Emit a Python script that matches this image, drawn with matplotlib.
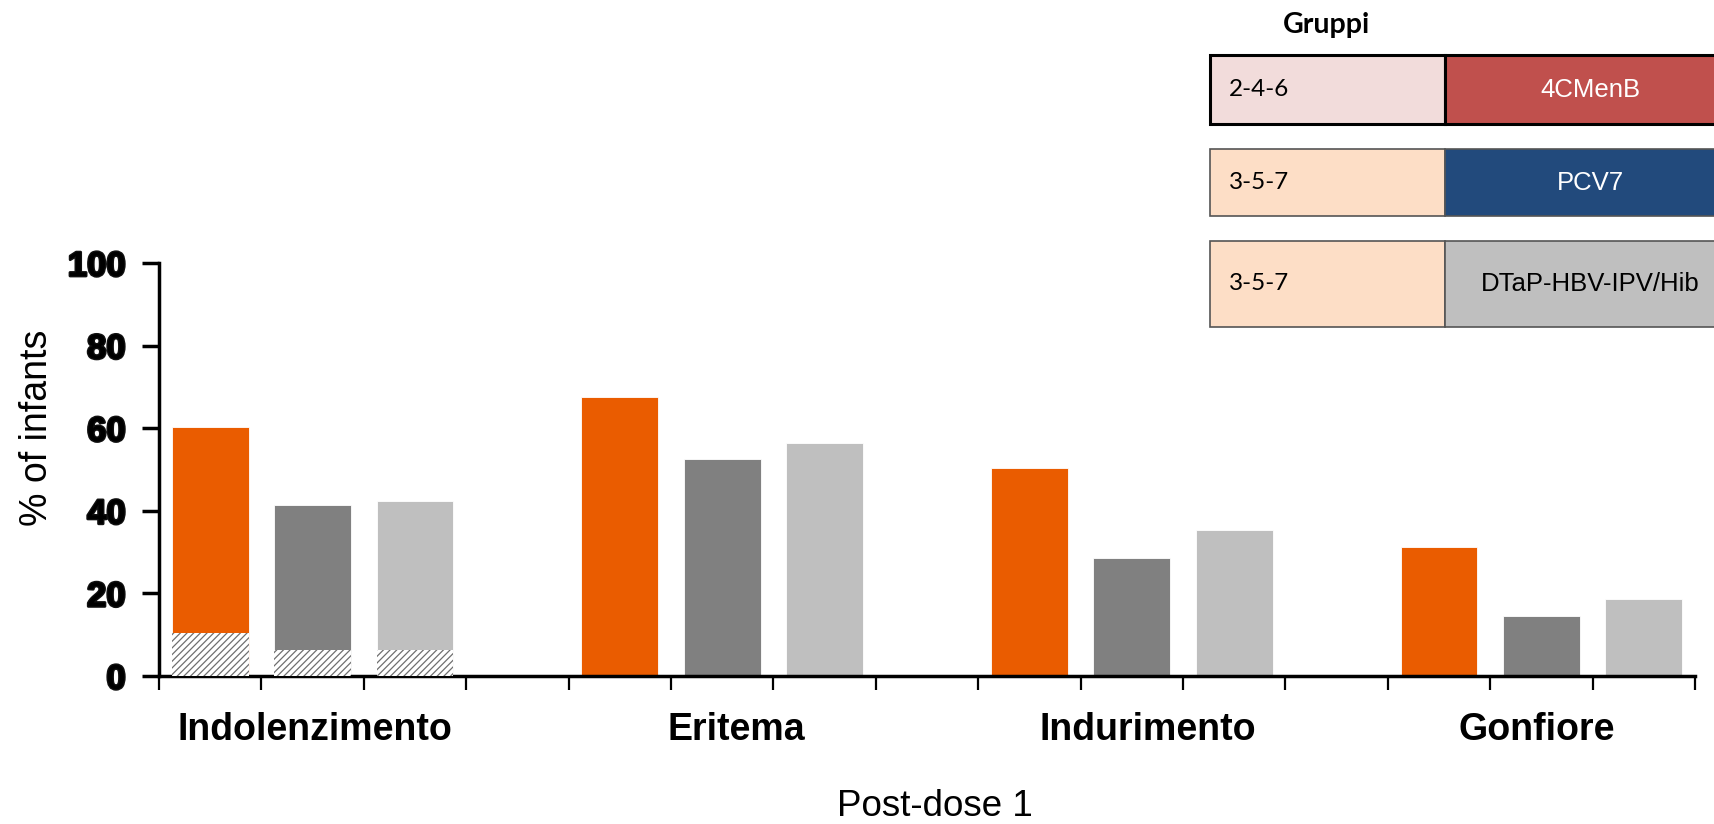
import matplotlib
matplotlib.use('Agg')
import matplotlib.pyplot as plt
import matplotlib.patheffects as pe
from matplotlib.patches import Rectangle

plt.rcParams['font.family'] = ['Liberation Sans', 'DejaVu Sans']
plt.rcParams['hatch.color'] = '#6f6f6f'
plt.rcParams['hatch.linewidth'] = 0.9

# data
categories = ['Indolenzimento', 'Eritema', 'Indurimento', 'Gonfiore']
menb = [60.3, 67.5, 50.4, 31.3]
pcv7 = [41.4, 52.6, 28.6, 14.6]
dtap = [42.4, 56.5, 35.3, 18.6]
severe = [10.3, 6.4, 6.4]          # hatched part, Indolenzimento only
label_x = [1.52, 5.64, 9.66, 13.45]

groups = ['2-4-6', '3-5-7', '3-5-7']
vaccines = ['4CMenB', 'PCV7', 'DTaP-HBV-IPV/Hib']

bar_colors = ['#ea5c00', '#808080', '#bfbfbf']
left_colors = ['#f2dcdb', '#fddec6', '#fddec6']
right_colors = ['#c0504d', '#224a7c', '#bfbfbf']
right_text = ['white', 'white', 'black']

W, H = 1715, 824
fig = plt.figure(figsize=(W/100, H/100), dpi=100)
ax = fig.add_axes([159/W, 1-676/H, (1695-159)/W, (676-263)/H])

series = [menb, pcv7, dtap]
for j, vals in enumerate(series):
    xs = [4*i + j + 0.5 for i in range(len(vals))]
    ax.bar(xs, vals, width=0.75, color=bar_colors[j], edgecolor='white',
           linewidth=0.6, zorder=2)

# hatched bottom of the first group
hx = [j + 0.5 for j in range(3)]
ax.bar(hx, severe, width=0.75, color='white', edgecolor='#6f6f6f',
       hatch='/////', linewidth=0, zorder=3)

ax.set_xlim(0, 15)
ax.set_ylim(0, 100)
ax.set_xticks(range(16))
ax.set_xticklabels([])
ax.set_yticks(range(0, 101, 20))
for s in ['top', 'right']:
    ax.spines[s].set_visible(False)
for s in ['left', 'bottom']:
    ax.spines[s].set_linewidth(2.5)
ax.tick_params(axis='x', length=10, width=1.6, direction='out')
ax.tick_params(axis='y', length=12, width=2.5, direction='out', pad=12)
for t in ax.get_yticklabels():
    t.set_fontsize(25)
    t.set_fontweight('bold')
    t.set_path_effects([pe.withStroke(linewidth=2, foreground='#111111')])

for c, x in zip(categories, label_x):
    ax.text(x, -13, c, ha='center', va='center', fontsize=27,
            fontweight='bold', transform=ax.transData, clip_on=False)

fig.text(935/W, 1-806/H, 'Post-dose 1', ha='center', va='center', fontsize=26.5)
fig.text(37/W, 1-428/H, '% of infants', ha='center', va='center',
         fontsize=27, rotation=90)

# group / vaccine table in the upper right
lg = fig.add_axes([0, 0, 1, 1], zorder=5)
lg.set_xlim(0, W)
lg.set_ylim(H, 0)
lg.axis('off')
lg.patch.set_alpha(0)

rows = [(55, 124), (149, 216), (241, 327)]
lg.text(1327, 25, 'Gruppi', ha='center', va='center', fontsize=20.5,
        fontweight='bold', family=['Lato', 'DejaVu Sans'])
for i, (y0, y1) in enumerate(rows):
    ec = 'black' if i == 0 else '#555555'
    lw = 2.2 if i == 0 else 1.2
    lg.add_patch(Rectangle((1210, y0), 235, y1-y0, facecolor=left_colors[i],
                           edgecolor=ec, linewidth=lw))
    lg.add_patch(Rectangle((1445, y0), 300, y1-y0, facecolor=right_colors[i],
                           edgecolor=ec, linewidth=lw))
    yc = (y0 + y1) / 2
    lg.text(1229, yc, groups[i], ha='left', va='center', fontsize=17.5,
            family=['Lato', 'DejaVu Sans'])
    lg.text(1590, yc, vaccines[i], ha='center', va='center', fontsize=18.5,
            color=right_text[i])

fig.savefig('out.png', dpi=100)
